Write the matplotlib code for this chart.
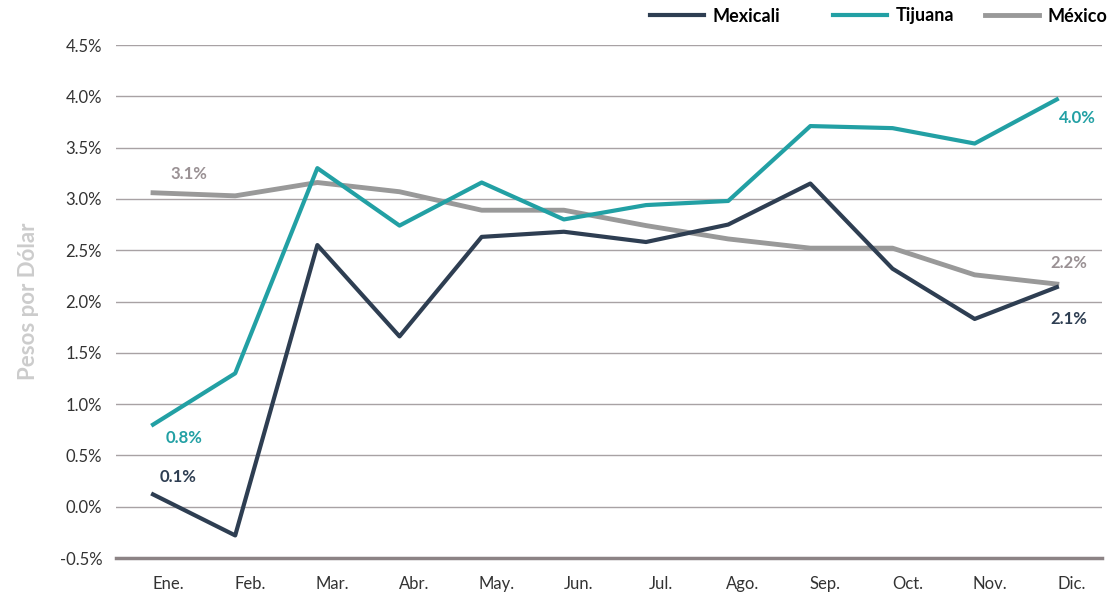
import matplotlib.pyplot as plt
import numpy as np

plt.rcParams['font.family'] = ['Lato', 'DejaVu Sans']

# datos
meses = ['Ene.', 'Feb.', 'Mar.', 'Abr.', 'May.', 'Jun.', 'Jul.', 'Ago.', 'Sep.', 'Oct.', 'Nov.', 'Dic.']
mexicali = [0.12, -0.28, 2.55, 1.66, 2.63, 2.68, 2.58, 2.75, 3.15, 2.32, 1.83, 2.14]
tijuana = [0.80, 1.30, 3.30, 2.74, 3.16, 2.80, 2.94, 2.98, 3.71, 3.69, 3.54, 3.97]
mexico = [3.06, 3.03, 3.16, 3.07, 2.89, 2.89, 2.74, 2.61, 2.52, 2.52, 2.26, 2.17]
yticks = [-0.5, 0.0, 0.5, 1.0, 1.5, 2.0, 2.5, 3.0, 3.5, 4.0, 4.5]

c_mxl = '#2e3e52'
c_tij = '#22a0a4'
c_mex = '#999999'
c_mex_txt = '#9a9194'

fig = plt.figure(figsize=(11.17, 5.94), dpi=100)
ax = fig.add_axes([0.1039, 0.0606, 0.8827, 0.8636])

x = np.arange(len(meses))
l1, = ax.plot(x, mexicali, color=c_mxl, lw=3, label='Mexicali', zorder=3)
l2, = ax.plot(x, tijuana, color=c_tij, lw=3, label='Tijuana', zorder=3)
l3, = ax.plot(x, mexico, color=c_mex, lw=3.5, label='México', zorder=2)

ax.set_xlim(-0.45, 11.55)
ax.set_ylim(-0.5, 4.5)
ax.set_yticks(yticks)
ax.set_yticklabels([f'{v:.1f}%' for v in yticks], fontsize=12, color='#333333')
ax.set_xticks(x + 0.18)
ax.set_xticklabels(meses, fontsize=12, color='#333333')
ax.tick_params(axis='both', length=0)
ax.tick_params(axis='y', pad=10)
ax.tick_params(axis='x', pad=13)

ax.grid(axis='y', color='#a8a2a4', lw=1)
ax.set_axisbelow(True)
for s in ['top', 'right', 'left']:
    ax.spines[s].set_visible(False)
ax.spines['bottom'].set_color('#8c8385')
ax.spines['bottom'].set_linewidth(2.5)

ax.set_ylabel('Pesos por Dólar', fontsize=16, color='#cccccc', fontweight='bold', labelpad=15)

# etiquetas de valores
kw = dict(fontsize=12, fontweight='bold', ha='center', va='center')
ax.text(0.3, mexicali[0] + 0.17, f'{mexicali[0]:.1f}%', color=c_mxl, **kw)
ax.text(0.38, tijuana[0] - 0.13, f'{tijuana[0]:.1f}%', color=c_tij, **kw)
ax.text(0.44, mexico[0] + 0.18, f'{mexico[0]:.1f}%', color=c_mex_txt, **kw)
ax.text(11.25, tijuana[11] - 0.18, f'{tijuana[11]:.1f}%', color=c_tij, **kw)
ax.text(11.15, mexico[11] + 0.21, f'{mexico[11]:.1f}%', color=c_mex_txt, **kw)
ax.text(11.14, mexicali[11] - 0.31, f'{mexicali[11]:.1f}%', color=c_mxl, **kw)

# leyenda (una entrada por columna, posiciones como en el original)
for h, x0 in [(l1, 650), (l2, 833), (l3, 985)]:
    fig.legend(handles=[h], loc='center left', bbox_to_anchor=(x0 / 1117, 1 - 16 / 594),
               frameon=False, prop={'weight': 'bold', 'size': 13}, handlelength=3.0,
               handletextpad=0.45, borderpad=0, borderaxespad=0)

fig.savefig('out.png', dpi=100)
